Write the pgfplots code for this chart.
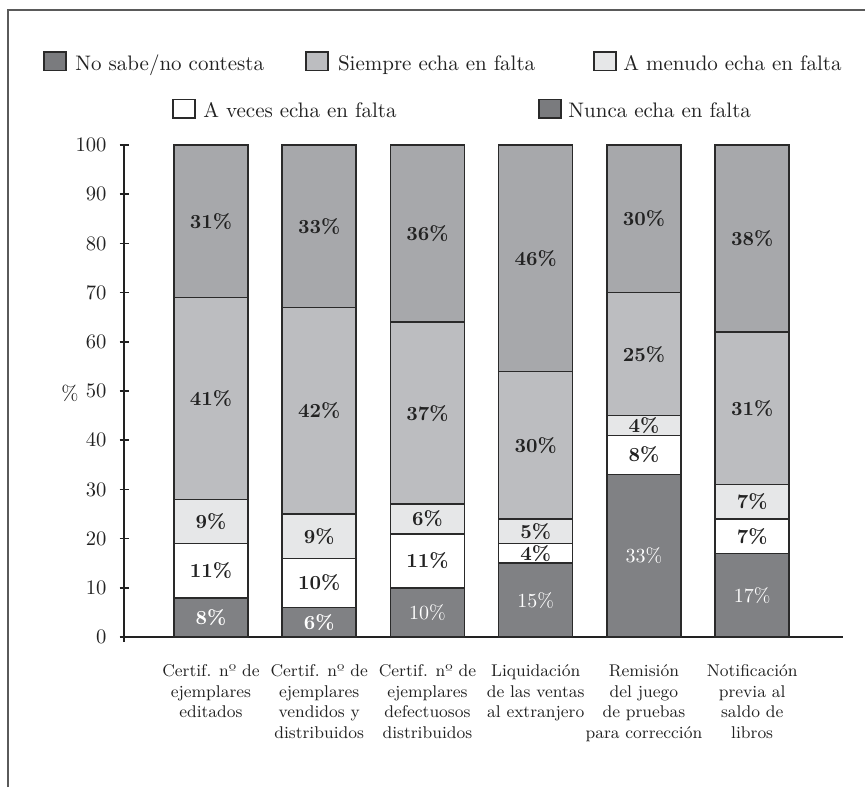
\documentclass[border=0pt]{standalone}
\usepackage{fontspec}
\usepackage{pgfplots}
\usepackage{pgfplotstable}
\pgfplotsset{compat=1.18}

\definecolor{nosabe}{HTML}{A7A8AB}
\definecolor{siempre}{HTML}{BCBDC0}
\definecolor{amenudo}{HTML}{E6E7E8}
\definecolor{nunca}{HTML}{808184}
\definecolor{legdark}{HTML}{7A7B7E}
\definecolor{edge}{HTML}{2A2A2A}
\definecolor{frame}{HTML}{5A5A5A}
\definecolor{ink}{HTML}{222222}

\tikzset{
  lsq/.style={draw=edge, line width=0.75pt},
  ltx/.style={anchor=base west, inner sep=0pt,
    font=\fontsize{10.5}{12}\selectfont, text=ink}}

% columns: position, then the five answers from the bottom of each bar up
\pgfplotstableread{
x nunca aveces amenudo siempre nosabe
0 8  11 9 41 31
1 6  10 9 42 33
2 10 11 6 37 36
3 15 4  5 30 46
4 33 8  4 25 30
5 17 7  7 31 38
}\datatable
% middle height of every segment, for its label
\pgfplotstablecreatecol[expr={\thisrow{nunca}/2}]{m1}\datatable
\pgfplotstablecreatecol[expr={\thisrow{nunca}+\thisrow{aveces}/2}]{m2}\datatable
\pgfplotstablecreatecol[expr={\thisrow{nunca}+\thisrow{aveces}+\thisrow{amenudo}/2}]{m3}\datatable
\pgfplotstablecreatecol[expr={\thisrow{nunca}+\thisrow{aveces}+\thisrow{amenudo}+\thisrow{siempre}/2}]{m4}\datatable
\pgfplotstablecreatecol[expr={\thisrow{nunca}+\thisrow{aveces}+\thisrow{amenudo}+\thisrow{siempre}+\thisrow{nosabe}/2}]{m5}\datatable

\pgfplotsset{
  frame geometry/.style={
    at={(62pt,72.5pt)}, anchor=south west,
    scale only axis, width=359.5pt, height=248.5pt,
    xmin=-0.803, xmax=5.839, ymin=-1, ymax=100, clip=false},
  seglabel/.style={draw=none, mark=none, point meta=explicit,
    nodes near coords={\pgfmathprintnumber{\pgfplotspointmeta}\%},
    every node near coord/.append style={anchor=center, inner sep=0pt,
      font=\fontsize{10}{12}\selectfont\bfseries, text=ink}},
}

\begin{document}
\begin{tikzpicture}
\path[use as bounding box] (0,0) rectangle (432.5pt,393.5pt);

% open frame: left and top edges only
\draw[frame, line width=0.8pt] (4pt,0pt) -- (4pt,388.5pt) -- (432.5pt,388.5pt);

\begin{axis}[
  frame geometry,
  ybar stacked, bar width=37pt,
  axis x line*=middle, axis y line*=left,
  axis line style={ink, line width=0.75pt},
  xtick={0,...,5}, major x tick style={draw=none},
  xticklabels={
    {Certif. nº de\\ejemplares\\editados},
    {Certif. nº de\\ejemplares\\vendidos y\\distribuidos},
    {Certif. nº de\\ejemplares\\defectuosos\\distribuidos},
    {Liquidación\\de las ventas\\al extranjero},
    {Remisión\\del juego\\de pruebas\\para corrección},
    {Notificación\\previa al\\saldo de\\libros}},
  xticklabel style={font=\fontsize{8.5}{10.2}\selectfont, align=center,
    anchor=north, inner sep=0pt, yshift=-11.5pt, text=ink},
  ytick={0,10,...,100},
  tick align=center, major tick length=4.5pt,
  major y tick style={ink, line width=0.75pt},
  yticklabel style={font=\fontsize{10.3}{12}\selectfont, inner sep=0pt,
    xshift=-6.3pt, text=ink},
  /pgf/number format/assume math mode=true,
  ylabel={\%},
  ylabel style={rotate=-90, at={(rel axis cs:-0.075,0.5)}, anchor=center,
    font=\fontsize{10.3}{12}\selectfont, text=ink},
  every axis plot/.append style={draw=edge, line width=0.8pt},
]
\addplot[fill=nunca]   table[x=x, y=nunca]   {\datatable};
\addplot[fill=white]   table[x=x, y=aveces]  {\datatable};
\addplot[fill=amenudo] table[x=x, y=amenudo] {\datatable};
\addplot[fill=siempre] table[x=x, y=siempre] {\datatable};
\addplot[fill=nosabe]  table[x=x, y=nosabe]  {\datatable};
\end{axis}

% percentage labels, set over the bars
\begin{axis}[frame geometry, hide axis,
  /pgf/number format/assume math mode=true]
\addplot[seglabel, restrict x to domain=0:1,
  every node near coord/.append style={text=white}]
  table[x=x, y=m1, meta=nunca] {\datatable};
\addplot[seglabel, restrict x to domain=2:5,
  every node near coord/.append style={text=white,
    font=\fontsize{10}{12}\selectfont}]
  table[x=x, y=m1, meta=nunca] {\datatable};
\addplot[seglabel] table[x=x, y=m2, meta=aveces]  {\datatable};
\addplot[seglabel] table[x=x, y=m3, meta=amenudo] {\datatable};
\addplot[seglabel] table[x=x, y=m4, meta=siempre] {\datatable};
\addplot[seglabel] table[x=x, y=m5, meta=nosabe]  {\datatable};
\end{axis}

% legend, two centred rows
\filldraw[lsq, fill=legdark] (22pt,358.3pt) rectangle (33pt,367.5pt);
\node[ltx] at (37.5pt,358.3pt) {No sabe/no contesta};
\filldraw[lsq, fill=siempre] (153pt,358.3pt) rectangle (164pt,367.5pt);
\node[ltx] at (168.8pt,358.3pt) {Siempre echa en falta};
\filldraw[lsq, fill=amenudo] (297pt,358.3pt) rectangle (308pt,367.5pt);
\node[ltx] at (311.5pt,358.3pt) {A menudo echa en falta};
\filldraw[lsq, fill=white] (86.5pt,334.6pt) rectangle (97.5pt,343.8pt);
\node[ltx] at (101.5pt,334.6pt) {A veces echa en falta};
\filldraw[lsq, fill=legdark] (269.5pt,334.6pt) rectangle (280.5pt,343.8pt);
\node[ltx] at (284pt,334.6pt) {Nunca echa en falta};
\end{tikzpicture}
\end{document}
